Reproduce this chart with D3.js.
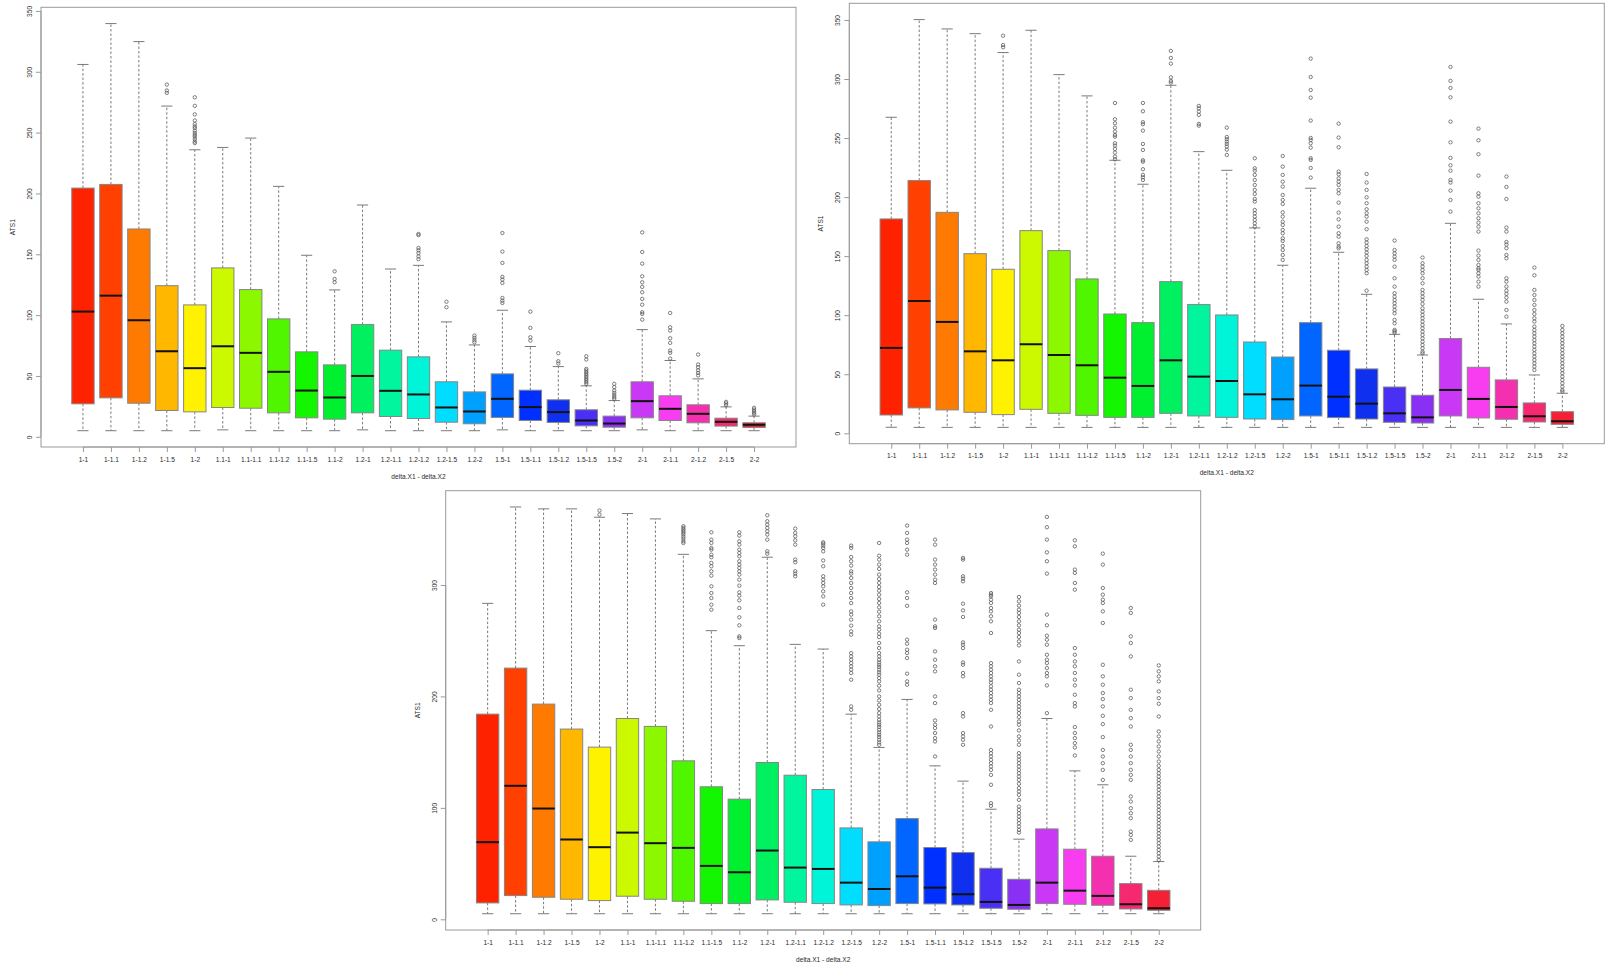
<!DOCTYPE html>
<html>
<head>
<meta charset="utf-8">
<script src="https://cdn.jsdelivr.net/npm/d3@7"></script>
<style>
  html, body { margin: 0; padding: 0; background: #ffffff; }
  svg { display: block; font-family: "Liberation Sans", Arial, sans-serif; }
</style>
</head>
<body>
<svg id="chart" width="1607" height="969"></svg>
<script>
// ---------------- DATA ----------------
const categories = ["1-1","1-1.1","1-1.2","1-1.5","1-2","1.1-1","1.1-1.1","1.1-1.2","1.1-1.5","1.1-2",
  "1.2-1","1.2-1.1","1.2-1.2","1.2-1.5","1.2-2","1.5-1","1.5-1.1","1.5-1.2","1.5-1.5","1.5-2",
  "2-1","2-1.1","2-1.2","2-1.5","2-2"];

const boxColors = ["#FF2200","#FF4000","#FF7A00","#FFB700","#FFF200","#CCF800","#8CF800","#50F500","#14F500","#00F030",
  "#00F060","#00F59E","#00F5D8","#00DDFF","#00A0FF","#0066FF","#0030FF","#1030F0","#4A30F5","#8A30F5",
  "#C838F5","#F83CF0","#F530B0","#F52870","#F52035"];

// Panel 1 (top left)
const p1Low  = [5,5,5,5,5,5.7,5,5,5,5,5.7,5,5,5,5,5.7,5,5,5,5,5.7,5,5,5,5];
const p1Q1   = [27.1,32,27.6,21.6,20.5,24.1,23.5,19.7,15.6,14.5,19.7,16.7,15,12,10.7,15.9,13.4,11.8,9,7.9,15.6,13.4,11.5,8.8,7.7];
const p1Med  = [102.9,116,95.8,70.3,56.4,74.4,69,53.4,38,32.3,50,37.8,34.8,24.1,20.8,31.2,24.4,20.3,13.4,10.9,29.3,23,18.9,12.3,9.9];
const p1Q3   = [204.4,207.4,170.8,124.2,108.4,138.8,121,96.9,69.8,59.1,92.2,71.2,65.7,45.2,36.9,51.7,38.3,30.4,22.2,17,45.2,33.7,26.3,15.3,11.5];
const p1High = [306,339.6,324.8,271.8,235.9,237.8,245.5,205.8,149.2,120.7,190.5,137.9,140.9,94.4,75.5,104,74.2,57.7,41.9,29.8,88.1,62.7,47.6,24.6,17];
const p1Out = [
  [],[],[],
  [289.5,284.6,282.7],
  [279,272,265,260,257,255,253.7,251.5,249.6,248,246.6,244.7,242.7,241.4],
  [],[],[],[],
  [136,129.7,127],
  [],[],
  [166.7,165.8,155.2,153.3,151,148.3,146],
  [111,106.5],
  [83.2,81.3,79.4,77.7],
  [167.5,152.2,142.9,131.4,129.2,126.4,114.1,111.9,110],
  [102.9,89.5,81.8,79.1],
  [68.7,62.1,60.2],
  [66.2,63.5,55.8,54.5,53.1,51.7,50.4,49,47.6,46.3,44.9,43.5],
  [43.5,40.8,38,36.1,34.2,32.6,31.2],
  [168,151.9,142.3,131.9,127,123.2,118.8,113.3,108.6,102.4,101,96.3],
  [101.8,90,87.3,81,77.2,70.9,69,64.3],
  [67.6,59.4,57.2,54.7,52.5,50.4],
  [28.7,27.4,26],
  [23.8,22.4,21.1,19.7,18.3]
];

// Panel 2 (top right)
const p2Low  = [5.1,5,5,5,5,5,5,5,5,5,5,5,5,5,5,5,5,5,5,5,5,5,5,5,5];
const p2Q1   = [15.5,21.5,19.8,17.8,15.8,20.3,16.9,15.2,13.5,13.5,16.9,14.7,13.5,12.1,11.6,14.7,13.3,12.1,9.3,8.7,14.7,13,11.9,9.6,7.6];
const p2Med  = [72.3,112,94.3,69.4,61.8,75.4,66.3,57.6,47.1,40.1,61.8,48,44.3,33,28.8,40.4,31,25.1,16.9,13.5,36.7,29.1,22.3,14.4,10.2];
const p2Q3   = [181.5,214,187.1,152.1,138.9,171.6,154.7,130.7,101,93.7,128.4,109,100.2,77.3,64.6,93.7,70.3,54.5,39.2,32.2,80.2,55.9,45.2,25.7,18.3];
const p2High = [267.6,350.3,342.4,338.4,322.4,341.3,303.7,285.7,231.2,210.9,294.7,238.5,222.7,173.9,142.3,207.5,153.3,117.7,83.8,66.3,177.8,113.5,92.6,49.4,33.9];
const p2Out = [
  [],[],[],[],
  [336.7,328.8,326.9],
  [],[],[],
  [279.7,265.9,262.5,258.8,255.5,252.6,251.2,245.6,243.6,240.8,237.7,234.3,232],
  [279.7,272.7,263.4,261.7,256.3,245,239.9,231.2,230,223.6,218.8,216.8,214.5],
  [323.8,317.8,313,301.4,298.4,297],
  [277.2,275.2,272.4,269.6,262,260.5],
  [258.8,250.9,249,247,245,242.8,240.2,235.7],
  [232.9,224.4,222.4,218.8,214.5,210.3,206.1,202.7,198.4,196.2,189.1,186.3,183.5,180.7,177.8,175],
  [234.8,225.8,218.8,213.1,208.9,201.8,197.6,194.2,187.1,183.5,179.2,176.4,172.2,169.4,165.1,162.9,158.6,155.2,151,146.8],
  [317.3,301.7,290.7,284.2,264.8,250.1,248.4,245.6,241.9,232.9,231.5,224.7,216.5],
  [262.2,250.4,242.2,221.6,219.3,215.9,213.1,210.3,206.1,203.2,195.3,186.9,181.2,175,169.4,166.5,160.9,158.1,156.7],
  [219.6,212.3,206.1,199.8,194.8,189.7,186.3,183.5,179.2,172.8,164.3,161.5,158.6,155.8,153,150.2,146.8,144,141.1,138.3,135.5,120.8],
  [163.2,155.2,152.4,149.6,146.8,141.1,131.3,124.2,118.6,115.7,112.9,110.1,107.3,104.4,101.6,96,93.1,87.5,86.4,85.2],
  [148.8,144,141.1,138.3,135.5,131.3,127,121.4,118.6,115.7,112.9,109.5,105.8,103,100.2,97.4,94.6,91.7,88.9,86.1,83.3,80.4,77.6,74.8,72,69.1,67.7],
  [310.2,298.4,292.4,284.5,263.9,246.4,233.2,226.9,222.4,214.5,212.3,205.5,197.6,187.7],
  [258,248.1,236.3,218.2,203.2,200.4,194.8,190.5,186.3,182.1,178.4,175,170.8,154.7,150.5,146.8,142.5,139.7,138.3,135.5,132.7,128.4,124.2],
  [217.4,208.6,198.4,174.2,170.8,162,159.8,156.7,151,148.2,131.3,128.4,124.2,120.8,118,114.9,111.5,104.4,98.8],
  [140.3,133.8,121.4,117.1,112.9,108.7,104.4,101,97.4,94.6,90.3,87.5,84.7,81.9,79,76.2,73.4,70.6,67.7,64.9,62.1,59.3,56.5,53.6],
  [90.9,87.5,84.7,81.9,79,76.2,73.4,70.6,67.7,64.9,62.1,59.3,56.5,53.6,50.8,48,45.2,42.3,39.5,36.7,35.3]
];

// Panel 3 (bottom)
const p3Low  = [5,5,5,5,5,5,5,5,5,5,5,5,5,5,5,5,5,5,5,5,5,5,5,5,5];
const p3Q1   = [14.7,21.3,19.8,18,16.8,20.7,18,16.2,14.1,14.1,17.4,15.3,14.1,12.9,12.3,14.1,13.8,12.9,9.9,9,14.1,13.5,12.6,9.3,8.1];
const p3Med  = [69.2,119.8,99.4,71.6,64.7,77.8,68.3,64.1,47.9,42.2,61.7,46.4,45.2,32.9,27.2,38.6,28.4,22.5,15.6,12.9,32.9,25.7,21,13.5,9.9];
const p3Q3   = [184.1,225.4,193.1,170.7,154.5,180.2,173.1,142.2,118.9,107.8,140.7,129.3,116.5,82,69.5,90.4,64.4,59.9,45.8,35.9,81.1,62.9,56.6,32,26];
const p3High = [283.5,370,368.3,368.3,360.8,364.1,359.3,327.5,259,245.5,324.9,246.7,242.5,184.1,154.2,197.3,137.7,124,98.8,71.9,180.2,133.2,120.7,56.6,51.8];
const p3Out = [
  [],[],[],[],
  [366.8,363.2],
  [],[],
  [352.7,351.2,349.7,348.2,346.7,345.2,343.1,341.3,339.2,337.7],
  [347.3,340.7,337.7,333.2,331.7,327.2,324.9,319.8,316.8,312.3,308.4,298.8,292.8,288.3,282.3,277.8],
  [347.3,344.3,339.2,336.2,331.7,328.7,325.7,321.3,318.3,315.3,312.3,309.3,304.8,299.4,293.4,290.4,286.2,279.3,271,263.8,253.9,252.4],
  [362.6,357.2,354.2,351.2,348.2,345.2,340.7,330.2,328.1],
  [350.6,346.7,343.7,340.1,336.2,322.8,320.4,312.3,310.2,307.8],
  [338.3,337.1,335.3,333.2,330.2,322,316.8,307.8,304.8,301.8,298.8,294.3,289.8,282.3],
  [335.3,333.2,325.1,321.3,317.4,312.3,310.2,306.3,301.8,297.3,292.8,288.3,283.8,276.3,273.4,268.9,263.5,258.4,255.4,238.9,235.9,232.9,229.9,227,224,221,215,191,188],
  [337.7,326.3,322.8,318.3,314.4,309.3,305.4,301.8,298.2,294.9,291.3,287.4,283.8,279.9,276,271.9,267.4,262.9,259.9,256.3,253.3,247.9,243.4,238.9,235.9,232.9,230.5,228.4,226.3,224,221.6,219.5,216.5,213.5,209.6,205.4,200,196.4,192.5,188.6,185,182,179,176.6,174.6,172.5,170.1,167.7,165.6,163.5,161.1,158.7,156.6],
  [353.3,346.7,340.7,337.7,331.7,327.2,293.4,288.3,281.3,250.9,247.3,241.9,238.9,234.4,220.4,213.5,210.5],
  [340.7,336.2,322.8,318.3,313.8,309.3,304.8,301.8,268.9,262.9,261.4,240.4,232.9,227,222.5,200,194,178.4,174.6,171.6,167.1,162.6,159.6,146.1],
  [324.3,322.8,307.8,305.7,303.3,283.2,277.2,271.3,248.5,246.4,243.4,230.5,228.4,221,218,185,182,167.1,164.1,161.1,156.6],
  [292.8,291.3,289.8,286.8,283.8,279.3,276.3,271.9,267.4,256.9,229.9,227,224,221,218,215,212.3,209,206,203,200,197,194,188,173,152,149,146.1,143.1,140.1,137.1,134.1,129.6,120.7,104.2,101.8],
  [289.2,285.3,281.4,277.8,274.9,271.3,267.4,263.8,259.9,256.9,253.3,249.4,245.8,231.4,219.5,212,206,203,200,197,194,191,188,185,181.4,177.5,174.6,169.5,164.1,160.5,156.6,149.1,146.1,143.1,140.1,137.1,134.1,131.1,128.1,125.1,121.6,117.7,114.7,111.7,107.2,101.2,98.2,95.2,92.2,89.2,86.2,83.2,80.2,77.8],
  [361.1,351.8,340.7,329.3,321.3,310.2,273.4,263.8,254.5,250.9,246.4,237.4,232.9,229.9,225.4,221,218,209.9,185],
  [340.1,334.7,313.8,310.8,301.8,295.8,243.4,237.4,231.4,227,221,215,209.9,201.5,194,191,172.5,167.1,162.6,158.1,154.2,147],
  [328.1,318.3,297.3,291.3,286.8,283.8,276.3,265.9,228.4,218,210.5,203,197.6,191,182.6,175.1,163.5,152,146.1,140.1,134.1,125.1],
  [279.3,274.9,253.9,247.9,235.9,206,198.5,188,180.5,173,156.6,152,146.1,140.1,134.1,129.6,125.1,110.2,105.7,99.7,95.2,90.7,78.7,75.7,71.3],
  [227.8,222.5,218,213.5,204.5,198.5,193.4,182,168.6,164.1,159.6,155.1,150.6,146.1,141.6,137.7,134.1,131.1,128.1,125.1,122.2,119.2,116.2,113.2,110.2,107.2,104.2,101.2,98.2,95.2,92.2,89.2,86.2,83.2,80.2,77.2,74.3,71.3,68.3,65.3,62.3,59.3,56.3,53.3]
];

const p1Ticks = [0,50,100,150,200,250,300,350];
const p2Ticks = [0,50,100,150,200,250,300,350];
const p3Ticks = [0,100,200,300];

const xTitle = "delta.X1 - delta.X2";
const yTitle = "ATS1";

// ---------------- DRAW ----------------
const svg = d3.select("#chart");
svg.append("rect").attr("width",1607).attr("height",969).attr("fill","#ffffff");

const panels = [
  {left:41, right:796, top:7.3, bottom:447, low:p1Low, q1:p1Q1, med:p1Med, q3:p1Q3, high:p1High, out:p1Out, ticks:p1Ticks},
  {left:849.3, right:1604.3, top:3.3, bottom:443.7, low:p2Low, q1:p2Q1, med:p2Med, q3:p2Q3, high:p2High, out:p2Out, ticks:p2Ticks},
  {left:445.7, right:1200.7, top:490.7, bottom:930, low:p3Low, q1:p3Q1, med:p3Med, q3:p3Q3, high:p3High, out:p3Out, ticks:p3Ticks}
];

const frameColor = "#9a9a9a";
const textColor = "#2a2a2a";
const fontSize = 6.6;

panels.forEach(p => {
  const n = categories.length;
  // R's rule: range [0.5, n+0.5] extended by 4%
  const x = d3.scaleLinear().domain([0.5 - 0.04*n, n + 0.5 + 0.04*n]).range([p.left, p.right]);
  const allVals = p.low.concat(p.high, p.out.flat());
  const vmin = d3.min(allVals), vmax = d3.max(allVals);
  const ext = (vmax - vmin) * 0.04;
  const y = d3.scaleLinear().domain([vmin - ext, vmax + ext]).range([p.bottom, p.top]);

  const g = svg.append("g");

  // frame
  g.append("rect").attr("x",p.left).attr("y",p.top)
    .attr("width",p.right-p.left).attr("height",p.bottom-p.top)
    .attr("fill","none").attr("stroke",frameColor).attr("stroke-width",1);

  // y axis
  const yAxis = d3.axisLeft(y).tickValues(p.ticks).tickSize(5).tickSizeOuter(0).tickFormat(d3.format("d"));
  const ya = g.append("g").attr("transform",`translate(${p.left},0)`).call(yAxis);
  ya.select(".domain").attr("stroke",frameColor).attr("d",`M0,${y(p.ticks[0])}V${y(p.ticks[p.ticks.length-1])}`);
  ya.selectAll(".tick line").attr("stroke",frameColor);
  ya.selectAll(".tick text").attr("fill",textColor).attr("font-size",fontSize)
    .attr("font-family","Liberation Sans, Arial, sans-serif")
    .attr("x",null).attr("dy",null).attr("text-anchor","middle")
    .attr("transform","translate(-9,0) rotate(-90)");

  // x axis
  const xAxis = d3.axisBottom(x).tickValues(d3.range(1,n+1)).tickSize(5).tickSizeOuter(0)
    .tickFormat(i => categories[i-1]);
  const xa = g.append("g").attr("transform",`translate(0,${p.bottom})`).call(xAxis);
  xa.select(".domain").attr("stroke",frameColor).attr("d",`M${x(1)},0H${x(n)}`);
  xa.selectAll(".tick line").attr("stroke",frameColor);
  xa.selectAll(".tick text").attr("fill",textColor).attr("font-size",fontSize)
    .attr("font-family","Liberation Sans, Arial, sans-serif").attr("y",10).attr("dy","0.71em");

  // titles
  g.append("text").attr("x",(p.left+p.right)/2).attr("y",p.bottom+31.5)
    .attr("text-anchor","middle").attr("font-size",fontSize).attr("fill",textColor).text(xTitle);
  g.append("text").attr("transform",`translate(${p.left-26},${(p.top+p.bottom)/2}) rotate(-90)`)
    .attr("text-anchor","middle").attr("font-size",fontSize).attr("fill",textColor).text(yTitle);

  const bw = (x(2) - x(1)) * 0.8;
  const cw = bw / 2;

  categories.forEach((c, i) => {
    const cx = x(i+1);
    const bg = g.append("g");
    // whiskers (dashed)
    bg.append("line").attr("x1",cx).attr("x2",cx).attr("y1",y(p.q3[i])).attr("y2",y(p.high[i]))
      .attr("stroke","#7a7a7a").attr("stroke-width",1).attr("stroke-dasharray","2.5,2");
    bg.append("line").attr("x1",cx).attr("x2",cx).attr("y1",y(p.q1[i])).attr("y2",y(p.low[i]))
      .attr("stroke","#7a7a7a").attr("stroke-width",1).attr("stroke-dasharray","2.5,2");
    // caps
    [p.high[i], p.low[i]].forEach(v => {
      bg.append("line").attr("x1",cx-cw/2).attr("x2",cx+cw/2).attr("y1",y(v)).attr("y2",y(v))
        .attr("stroke","#7a7a7a").attr("stroke-width",1);
    });
    // box
    bg.append("rect").attr("x",cx-bw/2).attr("y",y(p.q3[i]))
      .attr("width",bw).attr("height",y(p.q1[i]) - y(p.q3[i]))
      .attr("fill",boxColors[i]).attr("stroke","#858585").attr("stroke-width",1);
    // median
    bg.append("line").attr("x1",cx-bw/2).attr("x2",cx+bw/2).attr("y1",y(p.med[i])).attr("y2",y(p.med[i]))
      .attr("stroke","#111").attr("stroke-width",2);
    // outliers
    bg.selectAll("circle.o").data(p.out[i]).enter().append("circle")
      .attr("cx",cx).attr("cy",d => y(d)).attr("r",1.7)
      .attr("fill","none").attr("stroke","#555").attr("stroke-width",0.75);
  });
});
</script>
</body>
</html>
